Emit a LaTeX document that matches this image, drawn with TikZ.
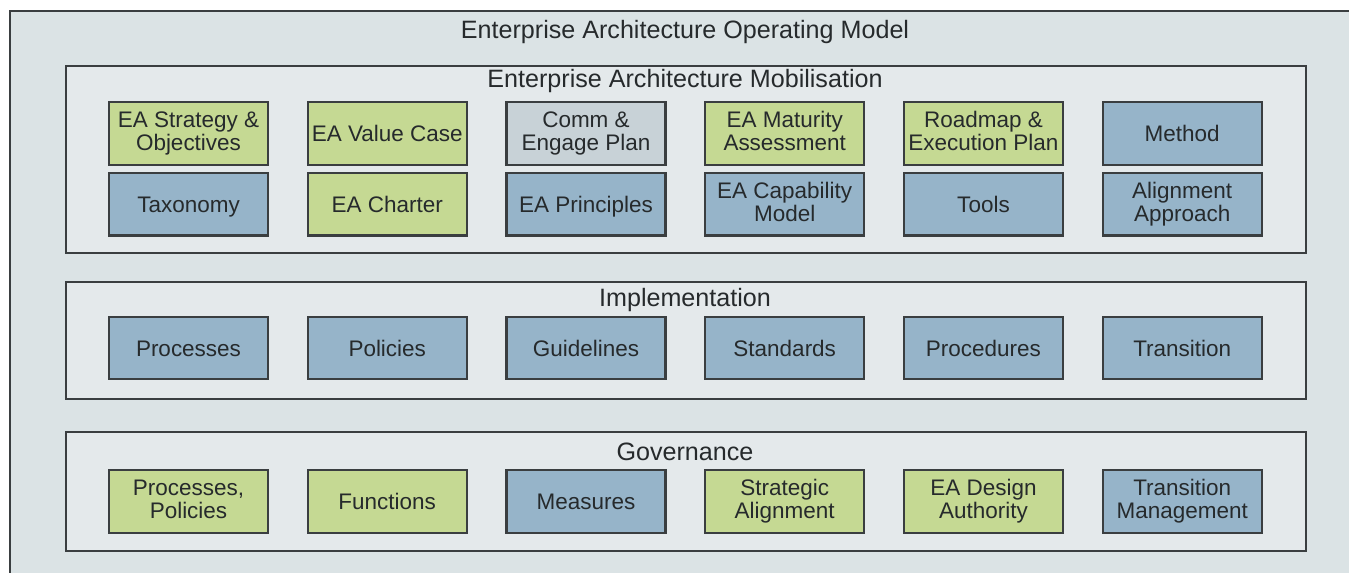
\documentclass[tikz,border=0pt]{standalone}
\usepackage{fontspec}
\setmainfont{Liberation Sans}
\usetikzlibrary{positioning}

\definecolor{eagreen}{RGB}{197,217,147}
\definecolor{eablue}{RGB}{150,180,201}
\definecolor{eagrey}{RGB}{200,210,215}
\definecolor{framefill}{RGB}{228,233,235}
\definecolor{outerfill}{RGB}{219,227,229}
\definecolor{edgegrey}{RGB}{58,62,64}
\definecolor{textgrey}{RGB}{38,42,44}

\newcommand{\eastrut}{\rule[-3pt]{0pt}{15.2pt}}

\begin{document}
\begin{tikzpicture}
	[x=0.02cm, y=-0.02cm,
		font=\fontsize{12.8}{13}\selectfont, text=textgrey,
		layerframe/.style={rectangle, draw=edgegrey, fill=framefill, line width=1.1pt, minimum width=24.8cm},
		layertitle/.style={inner sep=0pt, font=\fontsize{14.3}{15}\selectfont},
		itembox/.style={rectangle, draw=edgegrey, line width=1.3pt, minimum width=3.18cm, minimum height=1.25cm, align=center, inner sep=1pt,
			execute at begin node=\eastrut, execute at end node=\eastrut},
		greenbox/.style={itembox, fill=eagreen},
		bluebox/.style={itembox, fill=eablue},
		greybox/.style={itembox, fill=eagrey},
	]
	
	\useasboundingbox (0,0) rectangle (1349,573);
	\fill[outerfill] (10,11) rectangle (1349,573);
	\draw[edgegrey, line width=1.5pt] (10,573) -- (10,11) -- (1349,11);
	
	\node [layertitle] (modeltitle) at (685,32) {Enterprise Architecture Operating Model};
	
	% mobilisation layer
	\node [layerframe, minimum height=3.74cm] (mobil) at (686,159.5) {};
	\node [layertitle] (mobiltitle) at (685,81) {Enterprise Architecture Mobilisation};
	
	\node [greenbox] (strategy) at (188.5,133.5) {EA Strategy \&\\Objectives};
	\node [greenbox] (valuecase) [right=0.75cm of strategy] {EA Value Case};
	\node [greybox] (comm) [right=0.75cm of valuecase] {Comm \&\\Engage Plan};
	\node [greenbox] (maturity) [right=0.75cm of comm] {EA Maturity\\Assessment};
	\node [greenbox] (roadmap) [right=0.75cm of maturity] {Roadmap \&\\Execution Plan};
	\node [bluebox] (method) [right=0.75cm of roadmap] {Method};
	
	\node [bluebox] (taxonomy) [below=0.12cm of strategy] {Taxonomy};
	\node [greenbox] (charter) [below=0.12cm of valuecase] {EA Charter};
	\node [bluebox] (principles) [below=0.12cm of comm] {EA Principles};
	\node [bluebox] (capability) [below=0.12cm of maturity] {EA Capability\\Model};
	\node [bluebox] (tools) [below=0.12cm of roadmap] {Tools};
	\node [bluebox] (alignment) [below=0.12cm of method] {Alignment\\Approach};
	
	% implementation layer
	\node [layerframe, minimum height=2.34cm] (impl) at (686,340.5) {};
	\node [layertitle] (impltitle) at (685,300) {Implementation};
	
	\node [bluebox] (processes) at (188.5,348) {Processes};
	\node [bluebox] (policies) [right=0.75cm of processes] {Policies};
	\node [bluebox] (guidelines) [right=0.75cm of policies] {Guidelines};
	\node [bluebox] (standards) [right=0.75cm of guidelines] {Standards};
	\node [bluebox] (procedures) [right=0.75cm of standards] {Procedures};
	\node [bluebox] (transition) [right=0.75cm of procedures] {Transition};
	
	% governance layer
	\node [layerframe, minimum height=2.38cm] (gov) at (686,491.5) {};
	\node [layertitle] (govtitle) at (685,452) {Governance};
	
	\node [greenbox] (procpolicies) at (188.5,501.5) {Processes,\\Policies};
	\node [greenbox] (functions) [right=0.75cm of procpolicies] {Functions};
	\node [bluebox] (measures) [right=0.75cm of functions] {Measures};
	\node [greenbox] (stratalign) [right=0.75cm of measures] {Strategic\\Alignment};
	\node [greenbox] (designauth) [right=0.75cm of stratalign] {EA Design\\Authority};
	\node [bluebox] (transmgmt) [right=0.75cm of designauth] {Transition\\Management};
	
\end{tikzpicture}
\end{document}
